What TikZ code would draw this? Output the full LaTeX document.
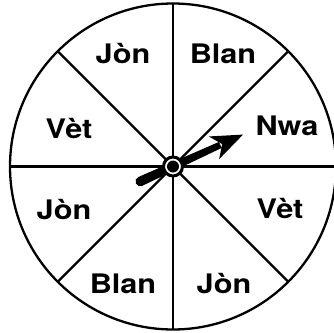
\documentclass[tikz,border=0pt]{standalone}
\usepackage{fontspec}
\setmainfont{TeX Gyre Heros}[FakeStretch=1.14]

\begin{document}
\begin{tikzpicture}[x=1bp,y=1bp,line width=2.3bp,
  lbl/.style={anchor=base,font=\bfseries\fontsize{27}{27}\selectfont,inner sep=0pt}]
\useasboundingbox (-173,-166.5) rectangle (161,166.5);
\coordinate (O) at (0,0);
\draw (O) circle (163);
\foreach \a in {0,45,...,315}
  \draw (O) -- (\a:163);
\node[lbl] (jonA)  at (-50,103)    {Jòn};
\node[lbl] (blanA) at (50,103)     {Blan};
\node[lbl] (nwa)   at (114,31.5)   {Nwa};
\node[lbl] (vetA)  at (-104,28.5)  {Vèt};
\node[lbl] (jonB)  at (-109,-52.5) {Jòn};
\node[lbl] (vetB)  at (107,-51.5)  {Vèt};
\node[lbl] (blanB) at (-50,-127)   {Blan};
\node[lbl] (jonC)  at (51,-127)    {Jòn};
% pointer
\begin{scope}[rotate=24.5]
\coordinate (tail) at (-36,0);
\coordinate (tip)  at (77,0);
\fill (tail) ++(0,-4.8) arc (270:90:4.8) -- (52,3.3) -- (52,-3.3) -- cycle;
\fill (tip) -- (45,12.5) -- (54,0) -- (45,-12.5) -- cycle;
\end{scope}
\filldraw[fill=white,line width=3bp] (O) circle (9.5);
\fill (O) circle (6);
\end{tikzpicture}
\end{document}
